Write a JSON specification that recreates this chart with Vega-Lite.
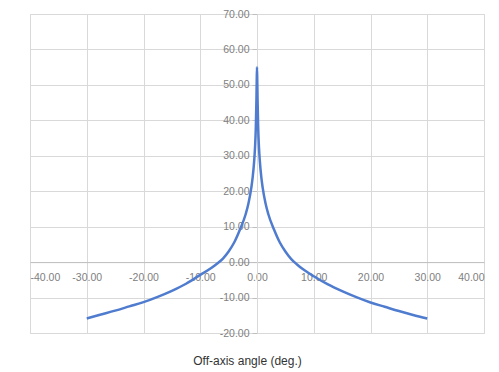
{
  "$schema": "https://vega.github.io/schema/vega-lite/v6.json",
  "autosize": "none",
  "width": 454,
  "height": 319,
  "padding": {"left": 30, "top": 14, "right": 15, "bottom": 39},
  "background": "white",
  "config": {
    "view": {"stroke": "#d9d9d9"},
    "font": "Liberation Sans"
  },
  "data": {
    "values": [
      {"angle": -30, "value": -15.9},
      {"angle": -27.5, "value": -14.8},
      {"angle": -25, "value": -13.7},
      {"angle": -22.5, "value": -12.5},
      {"angle": -20, "value": -11.3},
      {"angle": -17.5, "value": -9.8},
      {"angle": -15, "value": -8.1},
      {"angle": -12.5, "value": -6.1},
      {"angle": -10, "value": -3.6},
      {"angle": -8, "value": -1.6},
      {"angle": -7, "value": -0.4},
      {"angle": -6, "value": 1.0},
      {"angle": -5, "value": 3.0},
      {"angle": -4, "value": 5.6},
      {"angle": -3, "value": 9.2},
      {"angle": -2, "value": 13.5},
      {"angle": -1.5, "value": 16.6},
      {"angle": -1, "value": 21},
      {"angle": -0.75, "value": 24.1},
      {"angle": -0.5, "value": 28.5},
      {"angle": -0.35, "value": 32.3},
      {"angle": -0.2, "value": 38.4},
      {"angle": -0.1, "value": 45.9},
      {"angle": -0.05, "value": 51},
      {"angle": 0, "value": 55},
      {"angle": 0.05, "value": 51},
      {"angle": 0.1, "value": 45.9},
      {"angle": 0.2, "value": 38.4},
      {"angle": 0.35, "value": 32.3},
      {"angle": 0.5, "value": 28.5},
      {"angle": 0.75, "value": 24.1},
      {"angle": 1, "value": 21},
      {"angle": 1.5, "value": 16.6},
      {"angle": 2, "value": 13.5},
      {"angle": 3, "value": 9.2},
      {"angle": 4, "value": 5.6},
      {"angle": 5, "value": 3.0},
      {"angle": 6, "value": 0.9},
      {"angle": 7, "value": -0.6},
      {"angle": 8, "value": -1.9},
      {"angle": 10, "value": -4.0},
      {"angle": 12.5, "value": -6.3},
      {"angle": 15, "value": -8.2},
      {"angle": 17.5, "value": -9.9},
      {"angle": 20, "value": -11.4},
      {"angle": 22.5, "value": -12.6},
      {"angle": 25, "value": -13.8},
      {"angle": 27.5, "value": -14.9},
      {"angle": 30, "value": -15.9}
    ]
  },
  "mark": {"type": "line", "color": "#4f7ccf", "strokeWidth": 2.5, "interpolate": "monotone"},
  "encoding": {
    "x": {
      "field": "angle",
      "type": "quantitative",
      "scale": {"domain": [-40, 40], "nice": false, "zero": false},
      "axis": {
        "values": [-40, -30, -20, -10, 0, 10, 20, 30, 40],
        "offset": -70.9,
        "labelExpr": "replace(format(datum.value, '.2f'), '\u2212', '-')",
        "labelFontSize": 10.5,
        "labelColor": "#808080",
        "labelPadding": 6,
        "tickSize": 4,
        "tickColor": "#d9d9d9",
        "domainColor": "#bfbfbf",
        "gridColor": "#d9d9d9",
        "grid": true,
        "title": "Off-axis angle (deg.)",
        "titleFontSize": 12,
        "titleFontWeight": "normal",
        "titleColor": "#333333",
        "titleX": 217,
        "titleY": 98,
        "titleBaseline": "middle",
        "titleAlign": "center"
      }
    },
    "y": {
      "field": "value",
      "type": "quantitative",
      "scale": {"domain": [-20, 70], "nice": false, "zero": false},
      "axis": {
        "values": [-20, -10, 0, 10, 20, 30, 40, 50, 60, 70],
        "offset": -227,
        "labelExpr": "replace(format(datum.value, '.2f'), '\u2212', '-')",
        "labelFontSize": 10.5,
        "labelColor": "#808080",
        "labelPadding": 3,
        "tickSize": 5,
        "tickColor": "#bfbfbf",
        "domainColor": "#d9d9d9",
        "gridColor": "#d9d9d9",
        "grid": true,
        "title": null
      }
    }
  }
}
